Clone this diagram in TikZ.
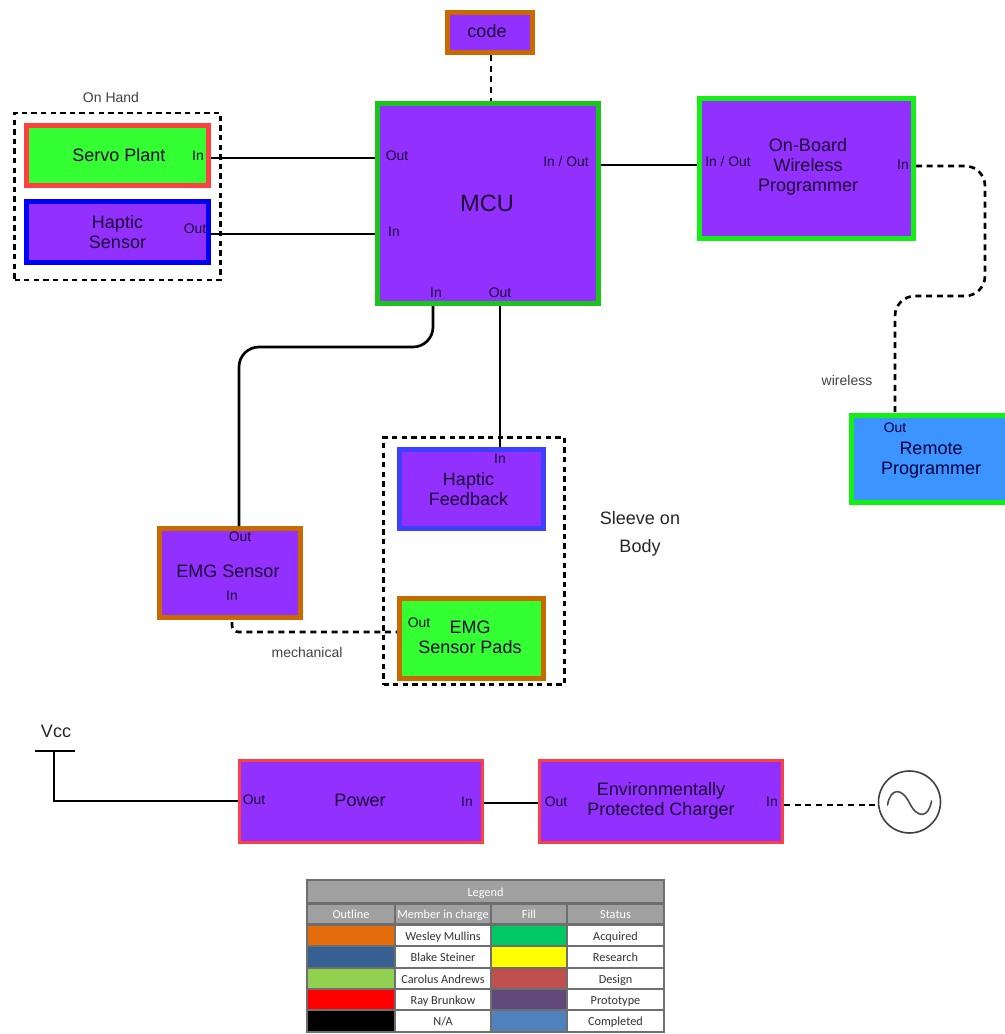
\documentclass[tikz,border=0pt]{standalone}
\usepackage{fontspec}
\setmainfont{Liberation Sans}
\newfontfamily\legendfont{Carlito}
\definecolor{pur}{HTML}{9130FF}
\definecolor{lim}{HTML}{33FF33}
\definecolor{org}{HTML}{C96A00}
\definecolor{grn}{HTML}{1BC41B}
\definecolor{brt}{HTML}{14F014}
\definecolor{rd}{HTML}{FF4040}
\definecolor{sky}{HTML}{3B94FF}
\definecolor{bl}{HTML}{0000F5}
\definecolor{bl2}{HTML}{3F3FFF}
\definecolor{hdr}{HTML}{A0A0A0}
\definecolor{hln}{HTML}{6E6E6E}
\definecolor{lorange}{HTML}{E46C0A}
\definecolor{lblue}{HTML}{366092}
\definecolor{llime}{HTML}{92D050}
\definecolor{lgreen}{HTML}{00C864}
\definecolor{lrose}{HTML}{C0504D}
\definecolor{lplum}{HTML}{60497A}
\definecolor{lsteel}{HTML}{4F81BD}
\definecolor{lyellow}{HTML}{FFFF00}
\definecolor{lred}{HTML}{FF0000}
\tikzset{
 x=0.75pt,y=-0.75pt,
 blk/.style={draw,line width=3.75pt,fill=pur,inner sep=0pt},
 thinbox/.style={blk,line width=2.4pt},
 blktext/.style={font=\fontsize{13.5}{15}\selectfont,align=center,inner sep=0pt,text=black!80!pur},
 port/.style={font=\fontsize{10.4}{12}\selectfont,inner sep=0pt,text=black!80!pur},
 note/.style={font=\fontsize{10.5}{12}\selectfont,inner sep=0pt,text=black!75},
 wire/.style={line width=2pt},
 dwire/.style={line width=2pt,dash pattern=on 4.5pt off 3.5pt},
 group/.style={line width=2pt,dash pattern=on 4pt off 3.2pt},
 cell/.style={draw=hln,line width=0.9pt,inner sep=0pt,font=\legendfont\fontsize{9.2}{11}\selectfont},
 hcell/.style={cell,fill=hdr,text=white},
 tcell/.style={cell,fill=white,text=black!80},
}
% style, name, x1, y1, x2, y2, colour, text, {dx,dy}
\newcommand{\blkbox}[9][blk]{%
 \node[#1,draw=#7,minimum width=#5*0.75pt-#3*0.75pt-3.75pt,minimum height=#6*0.75pt-#4*0.75pt-3.75pt] (#2) at ({(#3+#5)/2},{(#4+#6)/2}) {};
 \node[blktext] (#2-text) at ($(#2.center)+(#9)$) {#8};}
\newcommand{\lcell}[7]{%
 \node[#1,minimum width=#5*0.75pt-#3*0.75pt,minimum height=#6*0.75pt-#4*0.75pt] (#2) at ({(#3+#5)/2},{(#4+#6)/2}) {\raisebox{-1.4pt}[1ex][0pt]{#7}};}
\usetikzlibrary{calc}
\begin{document}
\begin{tikzpicture}
\useasboundingbox (0,0) rectangle (1004,1034);
% groups
\node[group,draw,inner sep=0pt,minimum width=206*0.75pt,minimum height=167*0.75pt] (onhand) at (117.5,196.5) {};
\node[group,draw,inner sep=0pt,minimum width=181*0.75pt,minimum height=247*0.75pt] (sleeve) at (474,561) {};
\node[note] (onhandlabel) at (111,97) {On Hand};
\node[font=\fontsize{13.5}{21}\selectfont,align=center,inner sep=0pt,text=black!85] (sleevelabel) at (640,534) {Sleeve on\\Body};
% blocks
\blkbox{code}{445}{10}{535}{55}{org}{code}{-3,-1}
\blkbox{mcu}{375}{101}{601}{306}{grn}{\fontsize{17.7}{20}\selectfont MCU}{-1,0}
\blkbox{prog}{697}{96}{916}{241}{brt}{On-Board\\Wireless\\Programmer}{1.5,-1.5}
\node[blk,draw=brt,fill=sky,anchor=north west,minimum width=165*0.75pt-3.75pt,minimum height=92*0.75pt-3.75pt] (remote) at (849,413) {};
\node[blktext,text=black!75!blue] (remote-text) at (931,460) {Remote\\Programmer};
\blkbox[blk,fill=lim]{servo}{24}{123}{211}{188}{rd}{Servo Plant}{1.5,0}
\blkbox{hsens}{24}{199}{211}{265}{bl}{Haptic\\Sensor}{0,0}
\blkbox{hfb}{397}{447}{546}{531}{bl2}{Haptic\\Feedback}{-3,0}
\blkbox{emg}{157}{526}{303}{620}{org}{EMG Sensor}{-2,-2}
\blkbox[blk,fill=lim]{pads}{397}{596}{546}{681}{org}{EMG\\Sensor Pads}{-1.5,-1.5}
\blkbox[thinbox]{power}{237}{758}{485}{845}{rd}{Power}{-1,-1}
\blkbox[thinbox]{charger}{537}{758}{785}{845}{rd}{Environmentally\\Protected Charger}{0,-1}
\node[circle,draw=black!75,line width=1.2pt,fill=white,minimum size=62*0.75pt,inner sep=0pt] (ac) at (909.5,802) {};
\begin{scope}[shift={(ac.center)}]
\draw[black!70,line width=1.2pt,line cap=round] (-22,3) .. controls (-19,-14) and (-8,-15) .. (0,1) .. controls (8,17) and (19,16) .. (22,-1);
\end{scope}
% ports
\node[port] (p1) at (198,156) {In};
\node[port] (p2) at (195,229) {Out};
\node[port] (p3) at (397,156) {Out};
\node[port] (p4) at (394,232) {In};
\node[port] (p5) at (566,162) {In / Out};
\node[port] (p6) at (436,293) {In};
\node[port] (p7) at (500,293) {Out};
\node[port] (p8) at (728,162) {In / Out};
\node[port] (p9) at (903,165) {In};
\node[port,text=black!75!blue] (p10) at (895,428) {Out};
\node[port] (p11) at (500,459) {In};
\node[port] (p12) at (240,537) {Out};
\node[port] (p13) at (232,596) {In};
\node[port] (p14) at (419,623) {Out};
\node[port] (p15) at (254,800) {Out};
\node[port] (p16) at (467,802) {In};
\node[port] (p17) at (556,802) {Out};
\node[port] (p18) at (772,802) {In};
\node[note] (wl) at (847,380) {wireless};
\node[note] (mech) at (307,652) {mechanical};
\node[font=\fontsize{13.5}{15}\selectfont,inner sep=0pt,text=black!85] (vcc) at (56,731) {Vcc};
% coordinates of the Vcc rail
\coordinate (vl) at (35,751); \coordinate (vr) at (75,751); \coordinate (vm) at (54,751);
% connectors
\draw[dwire] (code.south -| 491,0) -- (mcu.north -| 491,0);
\draw[wire] (servo.east |- 0,158) -- (mcu.west |- 0,158);
\draw[wire] (hsens.east |- 0,234) -- (mcu.west |- 0,234);
\draw[wire] (mcu.east |- 0,165) -- (prog.west |- 0,165);
\draw[wire,rounded corners=15] (mcu.south -| 433,0) -- (433,347) -- (239,347) -- (emg.north -| 239,0);
\draw[wire] (mcu.south -| 500,0) -- (hfb.north -| 500,0);
\draw[dwire,rounded corners=15] (prog.east |- 0,166) -- (985,166) -- (985,296) -- (895,296) -- (remote.north -| 895,0);
\draw[dwire,rounded corners=5] (emg.south -| 232,0) ++(0,2) -- (232,632) -- (pads.west |- 0,632);
\draw[wire] (power.east |- 0,803) -- (charger.west |- 0,803);
\draw[dwire] (charger.east |- 0,805) -- (ac.west |- 0,805);
\draw[wire] (vl) -- (vr);
\draw[wire] (vm) -- (54,801) -- (power.west |- 0,801);
% legend
\lcell{hcell}{lg}{307}{880}{664}{903}{Legend}
\lcell{hcell}{h1}{307}{904}{395}{924}{Outline}
\lcell{hcell}{h2}{395}{904}{491}{924}{Member in charge}
\lcell{hcell}{h3}{491}{904}{567}{924}{Fill}
\lcell{hcell}{h4}{567}{904}{664}{924}{Status}
\lcell{cell,fill=lorange}{a1}{307}{925}{395}{946}{}
\lcell{tcell}{b1}{395}{925}{491}{946}{Wesley Mullins}
\lcell{cell,fill=lgreen}{c1}{491}{925}{567}{946}{}
\lcell{tcell}{d1}{567}{925}{664}{946}{Acquired}
\lcell{cell,fill=lblue}{a2}{307}{946}{395}{968}{}
\lcell{tcell}{b2}{395}{946}{491}{968}{Blake Steiner}
\lcell{cell,fill=lyellow}{c2}{491}{946}{567}{968}{}
\lcell{tcell}{d2}{567}{946}{664}{968}{Research}
\lcell{cell,fill=llime}{a3}{307}{968}{395}{989}{}
\lcell{tcell}{b3}{395}{968}{491}{989}{Carolus Andrews}
\lcell{cell,fill=lrose}{c3}{491}{968}{567}{989}{}
\lcell{tcell}{d3}{567}{968}{664}{989}{Design}
\lcell{cell,fill=lred}{a4}{307}{989}{395}{1010}{}
\lcell{tcell}{b4}{395}{989}{491}{1010}{Ray Brunkow}
\lcell{cell,fill=lplum}{c4}{491}{989}{567}{1010}{}
\lcell{tcell}{d4}{567}{989}{664}{1010}{Prototype}
\lcell{cell,fill=black}{a5}{307}{1010}{395}{1032}{}
\lcell{tcell}{b5}{395}{1010}{491}{1032}{N/A}
\lcell{cell,fill=lsteel}{c5}{491}{1010}{567}{1032}{}
\lcell{tcell}{d5}{567}{1010}{664}{1032}{Completed}
\end{tikzpicture}
\end{document}
